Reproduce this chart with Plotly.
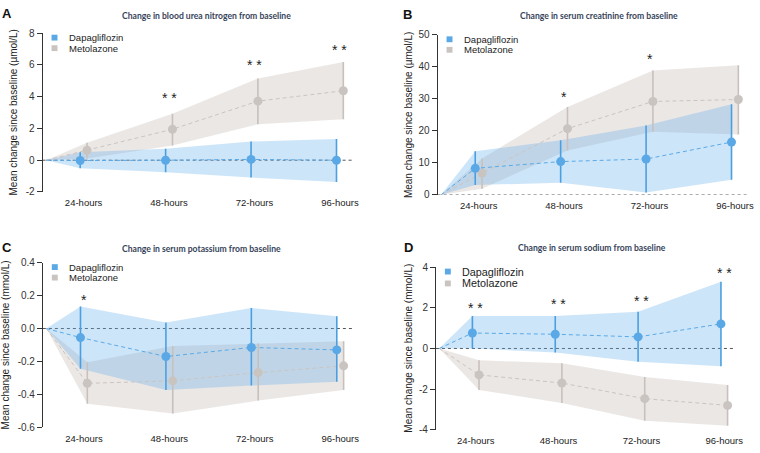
import plotly.graph_objects as go

W, H = 760, 453

categories = ["24-hours", "48-hours", "72-hours", "96-hours"]
series_names = ["Dapagliflozin", "Metolazone"]

# Panel A: blood urea nitrogen (µmol/L)
bun_dapa_mean = [-0.02, 0.0, 0.05, 0.0]
bun_dapa_lo = [-0.5, -0.76, -1.09, -1.38]
bun_dapa_hi = [0.5, 0.72, 1.18, 1.34]
bun_meto_mean = [0.62, 1.95, 3.72, 4.38]
bun_meto_lo = [0.1, 0.93, 2.27, 2.58]
bun_meto_hi = [1.1, 2.93, 5.15, 6.19]
bun_sig = ["", "**", "**", "**"]
bun_sig_y = [None, 4.12, 6.2, 7.13]

# Panel B: serum creatinine (µmol/L)
cr_dapa_mean = [8.3, 10.4, 11.2, 16.5]
cr_dapa_lo = [3.1, 3.75, 0.7, 4.7]
cr_dapa_hi = [13.6, 17.1, 21.7, 28.3]
cr_meto_mean = [6.8, 20.7, 29.2, 29.8]
cr_meto_lo = [1.9, 13.9, 19.7, 18.9]
cr_meto_hi = [11.4, 27.5, 38.9, 40.5]
cr_sig = ["", "*", "*", ""]
cr_sig_y = [None, 31.4, 43.3, None]

# Panel C: serum potassium (mmol/L)
k_dapa_mean = [-0.055, -0.17, -0.115, -0.13]
k_dapa_lo = [-0.245, -0.373, -0.347, -0.323]
k_dapa_hi = [0.134, 0.037, 0.124, 0.075]
k_meto_mean = [-0.333, -0.318, -0.268, -0.227]
k_meto_lo = [-0.458, -0.517, -0.438, -0.373]
k_meto_hi = [-0.205, -0.107, -0.091, -0.077]
k_sig = ["*", "", "", ""]
k_sig_y = [0.193, None, None, None]

# Panel D: serum sodium (mmol/L)
na_dapa_mean = [0.76, 0.7, 0.57, 1.21]
na_dapa_lo = [0.0, -0.2, -0.65, -0.87]
na_dapa_hi = [1.6, 1.6, 1.81, 3.28]
na_meto_mean = [-1.3, -1.7, -2.47, -2.8]
na_meto_lo = [-2.04, -2.68, -3.56, -3.8]
na_meto_hi = [-0.58, -0.73, -1.4, -1.8]
na_sig = ["**", "**", "**", "**"]
na_sig_y = [2.16, 2.32, 2.5, 3.84]

panel_titles = [
    "Change in blood urea nitrogen from baseline",
    "Change in serum creatinine from baseline",
    "Change in serum potassium from baseline",
    "Change in serum sodium from baseline",
]
panel_letters = ["A", "B", "C", "D"]
y_titles = [
    "Mean change since baseline (µmol/L)",
    "Mean change since baseline (µmol/L)",
    "Mean change since baseline (mmol/L)",
    "Mean change since baseline (mmol/L)",
]
y_ticks = [
    ([-2, 0, 2, 4, 6, 8], ["-2", "0", "2", "4", "6", "8"]),
    ([0, 10, 20, 30, 40, 50], ["0", "10", "20", "30", "40", "50"]),
    ([-0.6, -0.4, -0.2, 0.0, 0.2, 0.4], ["-0.6", "-0.4", "-0.2", "0.0", "0.2", "0.4"]),
    ([-4, -2, 0, 2, 4], ["-4", "-2", "0", "2", "4"]),
]

panels = [
    (bun_dapa_mean, bun_dapa_lo, bun_dapa_hi, bun_meto_mean, bun_meto_lo, bun_meto_hi, bun_sig, bun_sig_y),
    (cr_dapa_mean, cr_dapa_lo, cr_dapa_hi, cr_meto_mean, cr_meto_lo, cr_meto_hi, cr_sig, cr_sig_y),
    (k_dapa_mean, k_dapa_lo, k_dapa_hi, k_meto_mean, k_meto_lo, k_meto_hi, k_sig, k_sig_y),
    (na_dapa_mean, na_dapa_lo, na_dapa_hi, na_meto_mean, na_meto_lo, na_meto_hi, na_sig, na_sig_y),
]

# ---- layout geometry (pixels) ----
# (x_left, x_right, y_top, y_bottom)
boxes = [
    (43.0, 356.0, 28.0, 191.0),
    (441.7, 754.7, 29.7, 194.0),
    (43.3, 356.3, 263.7, 432.7),
    (440.0, 742.7, 268.3, 435.3),
]
x_ranges = [[0.52, 4.15], [0.52, 4.15], [0.52, 4.15], [0.52, 4.14]]
letter_pos = [(6.7, 7.5), (411.7, 8.3), (6.7, 247.7), (412.3, 248.3)]
title_pos = [(208.5, 10.0), (605.0, 10.0), (203.7, 249.3), (597.0, 249.0)]
ytitle_x = [14.0, 413.0, 6.5, 412.0]
legend_font = [9.5, 9.5, 9.5, 10.8]
legend_gap = [10.8, 10.8, 10.8, 12.2]

BASE_X = 0.56
OFF = 0.04

C_DAPA = "#5aa9e6"
C_DAPA_BAR = "#4b9fe0"
C_DAPA_BAND = "rgba(100,175,235,0.32)"
C_METO = "#cac4c1"
C_METO_BAR = "#c7c0bc"
C_METO_BAND = "rgba(200,188,183,0.36)"

FONT = "Liberation Sans, Arial, sans-serif"


def px2x(px):
    return px / W


def py2y(py):
    return 1 - py / H


fig = go.Figure()
annotations = []
shapes = []

for i, (dm, dlo, dhi, mm, mlo, mhi, sig, sig_y) in enumerate(panels):
    n = i + 1
    xa = "x" if n == 1 else f"x{n}"
    ya = "y" if n == 1 else f"y{n}"
    xpos = [k + 1 for k in range(len(categories))]
    xd = [p - OFF for p in xpos]
    xm = [p + OFF for p in xpos]

    groups = [
        (xm, mm, mlo, mhi, C_METO_BAND, C_METO, C_METO_BAR, series_names[1]),
        (xd, dm, dlo, dhi, C_DAPA_BAND, C_DAPA, C_DAPA_BAR, series_names[0]),
    ]
    for xs, mean, lo, hi, band, line_c, bar_c, name in groups:
        fig.add_trace(go.Scatter(
            x=[BASE_X] + xs + xs[::-1] + [BASE_X],
            y=[0] + hi + lo[::-1] + [0],
            fill="toself", fillcolor=band, line=dict(width=0),
            mode="lines", hoverinfo="skip", showlegend=False,
            xaxis=xa, yaxis=ya,
        ))

    for xs, mean, lo, hi, band, line_c, bar_c, name in groups:
        fig.add_trace(go.Scatter(
            x=[BASE_X] + xs, y=[0] + mean, mode="lines",
            line=dict(color=line_c, width=1, dash="4px,3px"),
            hoverinfo="skip", showlegend=False, xaxis=xa, yaxis=ya,
        ))
        fig.add_trace(go.Scatter(
            x=xs, y=mean, mode="markers", name=name,
            marker=dict(color=line_c, size=9, line=dict(width=0)),
            error_y=dict(type="data", symmetric=False,
                         array=[h - m for h, m in zip(hi, mean)],
                         arrayminus=[m - l for m, l in zip(mean, lo)],
                         width=0, thickness=1.6, color=bar_c),
            cliponaxis=False, showlegend=False, xaxis=xa, yaxis=ya,
        ))

    # significance stars
    for k, (s, sy) in enumerate(zip(sig, sig_y)):
        if s:
            annotations.append(dict(
                x=xpos[k], y=sy, xref=xa, yref=ya, text=s.replace("**", "* *"),
                showarrow=False, yshift=-3,
                font=dict(family=FONT, size=14, color="#222"),
            ))

    x0, x1, yt, yb = boxes[i]
    xax = dict(
        domain=[px2x(x0), px2x(x1)], range=x_ranges[i], anchor=ya,
        tickvals=[k + 1 for k in range(len(categories))], ticktext=categories,
        showline=False, showgrid=False, zeroline=False, ticks="",
        ticklabelstandoff=4,
        tickfont=dict(family=FONT, size=9.5, color="#222"),
        fixedrange=True,
    )
    tv, tt = y_ticks[i]
    yax = dict(
        domain=[py2y(yb), py2y(yt)], range=[tv[0], tv[-1]], anchor=xa,
        tickvals=tv, ticktext=tt, showline=True, linecolor="#333",
        linewidth=1, ticks="outside", ticklen=5, tickcolor="#333",
        showgrid=False, zeroline=False,
        tickfont=dict(family=FONT, size=10, color="#333"),
        fixedrange=True,
    )
    fig.layout[("xaxis" if n == 1 else f"xaxis{n}")] = xax
    fig.layout[("yaxis" if n == 1 else f"yaxis{n}")] = yax

    # zero reference line
    shapes.append(dict(
        type="line", xref=f"{xa} domain", yref=ya, x0=0, x1=1, y0=0, y1=0,
        line=dict(color="#555", width=1, dash="3px,3px"), layer="below",
    ))

    # panel letter
    lx, ly = letter_pos[i]
    annotations.append(dict(
        x=px2x(lx), y=py2y(ly), xref="paper", yref="paper", text=f"<b>{panel_letters[i]}</b>",
        showarrow=False, xanchor="center", yanchor="middle",
        font=dict(family=FONT, size=13, color="#111"),
    ))
    # title
    tx, ty = title_pos[i]
    annotations.append(dict(
        x=px2x(tx), y=py2y(ty), xref="paper", yref="paper", text=f"<b>{panel_titles[i]}</b>",
        showarrow=False, xanchor="center", yanchor="middle",
        font=dict(family="Lato, sans-serif", size=8.6, color="#36445a"),
    ))
    # y title
    annotations.append(dict(
        x=px2x(ytitle_x[i]), y=py2y((yt + yb) / 2), xref="paper", yref="paper",
        text=y_titles[i], textangle=-90, showarrow=False,
        xanchor="center", yanchor="middle",
        font=dict(family=FONT, size=10, color="#222"),
    ))
    # legend
    sq_x = x0 + 12
    sq_y0 = yt + 4.5
    for j, (nm, col) in enumerate([(series_names[0], C_DAPA), (series_names[1], C_METO)]):
        cy = sq_y0 + j * legend_gap[i]
        shapes.append(dict(
            type="rect", xref="paper", yref="paper",
            x0=px2x(sq_x - 3), x1=px2x(sq_x + 3), y0=py2y(cy + 3), y1=py2y(cy - 3),
            fillcolor=col, line=dict(width=0),
        ))
        annotations.append(dict(
            x=px2x(sq_x + 12.5), y=py2y(cy), xref="paper", yref="paper", text=nm,
            showarrow=False, xanchor="left", yanchor="middle",
            font=dict(family=FONT, size=legend_font[i], color="#222"),
        ))

fig.update_layout(
    width=W, height=H, autosize=False,
    margin=dict(l=0, r=0, t=0, b=0),
    paper_bgcolor="white", plot_bgcolor="white",
    showlegend=False, annotations=annotations, shapes=shapes,
)

fig.write_html(
    "out.html",
    config={"displayModeBar": False, "staticPlot": True},
    post_script="document.body.style.margin='0';document.documentElement.style.overflow='hidden';",
)
